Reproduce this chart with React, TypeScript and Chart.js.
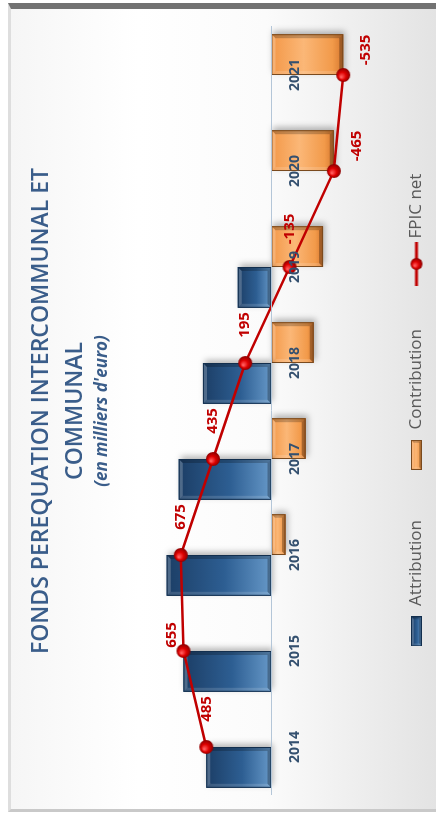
import React, { useEffect, useRef } from 'react';
import { Chart, registerables } from 'chart.js';

Chart.register(...registerables);

// ---- data ----
const categories = ['2014', '2015', '2016', '2017', '2018', '2019', '2020', '2021'];
const attribution = [485, 655, 780, 690, 510, 250, 0, 0];
const contribution = [0, 0, -105, -255, -315, -385, -465, -535];
const fpicNet = [485, 655, 675, 435, 195, -135, -465, -535];
const seriesNames = ['Attribution', 'Contribution', 'FPIC net'];
const titleLines = ['FONDS PEREQUATION INTERCOMMUNAL ET', 'COMMUNAL'];
const subtitleText = "(en milliers d'euro)";

// ---- label placement (style) ----
const labelPlacement = ['right', 'upRight', 'right', 'right', 'right', 'right', 'downRight', 'downRight'];
const placementOffset: Record<string, [number, number]> = {
  right: [38, 0],
  upRight: [16, -12],
  downRight: [25, 23],
};

const FONT = "'Open Sans', 'DejaVu Sans', sans-serif";
const TITLE_COLOR = '#3a5d8a';
const LINE_COLOR = '#c00000';

const attribPal = { stops: [[0, '#1c3e66'], [0.55, '#2d5e92'], [1, '#6698c8']], edge: '#132f4e' };
const contribPal = { stops: [[0, '#f39848'], [0.45, '#fbb777'], [0.85, '#f29a4a'], [1, '#d6772e']], edge: '#7a4a1e' };

function makeSphere(r: number) {
  const c = document.createElement('canvas');
  const s = Math.ceil(r * 2 + 2);
  c.width = s;
  c.height = s;
  const g = c.getContext('2d')!;
  const cx = s / 2;
  const grad = g.createRadialGradient(cx - r * 0.3, cx - r * 0.3, r * 0.1, cx, cx, r);
  grad.addColorStop(0, '#ff5a5a');
  grad.addColorStop(0.5, '#dd0000');
  grad.addColorStop(1, '#8a0000');
  g.fillStyle = grad;
  g.beginPath();
  g.arc(cx, cx, r, 0, Math.PI * 2);
  g.fill();
  return c;
}

function drawBevel(ctx: CanvasRenderingContext2D, L: number, T: number, W: number, H: number, pal: any, shadow: boolean) {
  if (H < 0.5 || W < 0.5) return;
  ctx.save();
  const grad = ctx.createLinearGradient(0, T, 0, T + H);
  pal.stops.forEach((s: any) => grad.addColorStop(s[0], s[1]));
  if (shadow) {
    ctx.shadowColor = 'rgba(0,0,0,0.28)';
    ctx.shadowBlur = 6;
    ctx.shadowOffsetX = 3;
    ctx.shadowOffsetY = 2;
  }
  ctx.fillStyle = grad;
  ctx.fillRect(L, T, W, H);
  ctx.shadowColor = 'transparent';
  const b = Math.min(4, W / 4, H / 4);
  const poly = (pts: number[][], fill: string) => {
    ctx.beginPath();
    ctx.moveTo(pts[0][0], pts[0][1]);
    for (let i = 1; i < pts.length; i++) ctx.lineTo(pts[i][0], pts[i][1]);
    ctx.closePath();
    ctx.fillStyle = fill;
    ctx.fill();
  };
  poly([[L, T], [L + W, T], [L + W - b, T + b], [L + b, T + b]], 'rgba(255,255,255,0.22)');
  poly([[L, T], [L + b, T + b], [L + b, T + H - b], [L, T + H]], 'rgba(255,255,255,0.14)');
  poly([[L + W, T], [L + W, T + H], [L + W - b, T + H - b], [L + W - b, T + b]], 'rgba(0,0,0,0.22)');
  poly([[L, T + H], [L + W, T + H], [L + W - b, T + H - b], [L + b, T + H - b]], 'rgba(0,0,0,0.28)');
  ctx.strokeStyle = pal.edge;
  ctx.lineWidth = 1;
  ctx.strokeRect(L + 0.5, T + 0.5, W - 1, H - 1);
  ctx.restore();
}

function makeBarSwatch(pal: any) {
  const c = document.createElement('canvas');
  c.width = 30;
  c.height = 11;
  const g = c.getContext('2d')!;
  drawBevel(g, 0, 0, 30, 11, pal, false);
  return c;
}

function makeLineSwatch(sphere: HTMLCanvasElement) {
  const c = document.createElement('canvas');
  c.width = 44;
  c.height = 16;
  const g = c.getContext('2d')!;
  g.strokeStyle = LINE_COLOR;
  g.lineWidth = 3;
  g.beginPath();
  g.moveTo(0, 8);
  g.lineTo(44, 8);
  g.stroke();
  g.drawImage(sphere, 22 - sphere.width / 2, 8 - sphere.height / 2);
  return c;
}

const bevelPlugin = {
  id: 'bevelBars',
  afterDatasetDraw(chart: any, args: any) {
    const meta = args.meta;
    if (meta.type !== 'bar') return;
    const pal = args.index === 0 ? attribPal : contribPal;
    const ctx = chart.ctx;
    meta.data.forEach((el: any) => {
      const { x, y, base, width } = el.getProps(['x', 'y', 'base', 'width'], true);
      const T = Math.min(y, base);
      const H = Math.abs(base - y);
      drawBevel(ctx, x - width / 2, T, width, H, pal, true);
    });
  },
};

const valueLabelPlugin = {
  id: 'valueLabels',
  afterDraw(chart: any) {
    const meta = chart.getDatasetMeta(2);
    const ctx = chart.ctx;
    ctx.save();
    ctx.font = `bold 15px ${FONT}`;
    ctx.fillStyle = LINE_COLOR;
    ctx.textAlign = 'center';
    ctx.textBaseline = 'middle';
    meta.data.forEach((pt: any, i: number) => {
      const off = placementOffset[labelPlacement[i]] || [38, 0];
      ctx.fillText(String(fpicNet[i]), pt.x + off[0], pt.y + off[1]);
    });
    ctx.restore();
  },
};

export default function App() {
  const canvasRef = useRef<HTMLCanvasElement | null>(null);

  useEffect(() => {
    const canvas = canvasRef.current;
    if (!canvas) return;
    const sphere = makeSphere(7);
    const legendImages = [makeBarSwatch(attribPal), makeBarSwatch(contribPal), makeLineSwatch(makeSphere(6))];

    const chart = new Chart(canvas, {
      data: {
        labels: categories,
        datasets: [
          {
            type: 'bar',
            label: seriesNames[0],
            data: attribution,
            backgroundColor: '#2d5e92',
            borderWidth: 0,
            order: 1,
          },
          {
            type: 'bar',
            label: seriesNames[1],
            data: contribution,
            backgroundColor: '#f5a05a',
            borderWidth: 0,
            order: 1,
          },
          {
            type: 'line',
            label: seriesNames[2],
            data: fpicNet,
            borderColor: LINE_COLOR,
            borderWidth: 2.5,
            tension: 0,
            pointStyle: sphere,
            pointRadius: 7,
            order: 0,
          },
        ],
      } as any,
      options: {
        animation: false,
        responsive: false,
        maintainAspectRatio: false,
        layout: { padding: { left: 23, right: 27, top: 0, bottom: 1 } },
        datasets: {
          bar: { categoryPercentage: 0.85, barPercentage: 1 },
        },
        plugins: {
          tooltip: { enabled: false },
          title: {
            display: true,
            text: titleLines,
            color: TITLE_COLOR,
            font: { family: FONT, size: 23, weight: '600', lineHeight: 1.45 },
            padding: { top: 25, bottom: 0 },
          },
          subtitle: {
            display: true,
            text: subtitleText,
            color: TITLE_COLOR,
            font: { family: FONT, size: 17, weight: 'bold', style: 'italic', lineHeight: 1.2 },
            padding: { top: 0, bottom: 17 },
          },
          legend: {
            display: true,
            position: 'bottom',
            labels: {
              usePointStyle: true,
              pointStyleWidth: 34,
              boxHeight: 17,
              padding: 48,
              color: '#595959',
              font: { family: FONT, size: 17 },
              generateLabels: () =>
                seriesNames.map((name, i) => ({
                  text: name,
                  pointStyle: legendImages[i],
                  fillStyle: 'transparent',
                  strokeStyle: 'transparent',
                  lineWidth: 0,
                  hidden: false,
                  datasetIndex: i,
                  fontColor: '#595959',
                })),
            },
          },
        },
        scales: {
          x: {
            type: 'category',
            position: { y: 0 },
            offset: true,
            z: 1,
            grid: { drawOnChartArea: false, drawTicks: false, z: 1 },
            border: { display: true, color: '#b4c6d8', width: 1, z: 1 },
            ticks: {
              z: 1,
              font: { family: FONT, size: 14, weight: 'bold' },
              color: '#34506f',
              padding: 15,
              maxRotation: 0,
              autoSkip: false,
            },
          },
          y: {
            display: false,
            min: -660,
            max: 1060,
          },
        },
      } as any,
      plugins: [bevelPlugin, valueLabelPlugin],
    });
    return () => chart.destroy();
  }, []);

  return (
    <div style={{ position: 'fixed', left: 0, top: 0, width: 436, height: 818, overflow: 'hidden', background: '#ffffff' }}>
      <div
        style={{
          position: 'absolute',
          left: 0,
          top: 0,
          width: 818,
          height: 436,
          transformOrigin: '0 0',
          transform: 'translate(0px, 818px) rotate(-90deg)',
        }}
      >
        <div
          style={{
            position: 'absolute',
            left: 6,
            top: 8,
            width: 809,
            height: 428,
            boxSizing: 'border-box',
            borderLeft: '3px solid #c9c9c9',
            borderTop: '3px solid #dedede',
            borderRight: '6px solid #727272',
            background: 'linear-gradient(to bottom, #f6f6f6 0%, #ffffff 30%, #fbfbfb 60%, #e3e3e3 100%)',
          }}
        />
        <canvas ref={canvasRef} width={818} height={436} style={{ position: 'absolute', left: 0, top: 0 }} />
      </div>
    </div>
  );
}
